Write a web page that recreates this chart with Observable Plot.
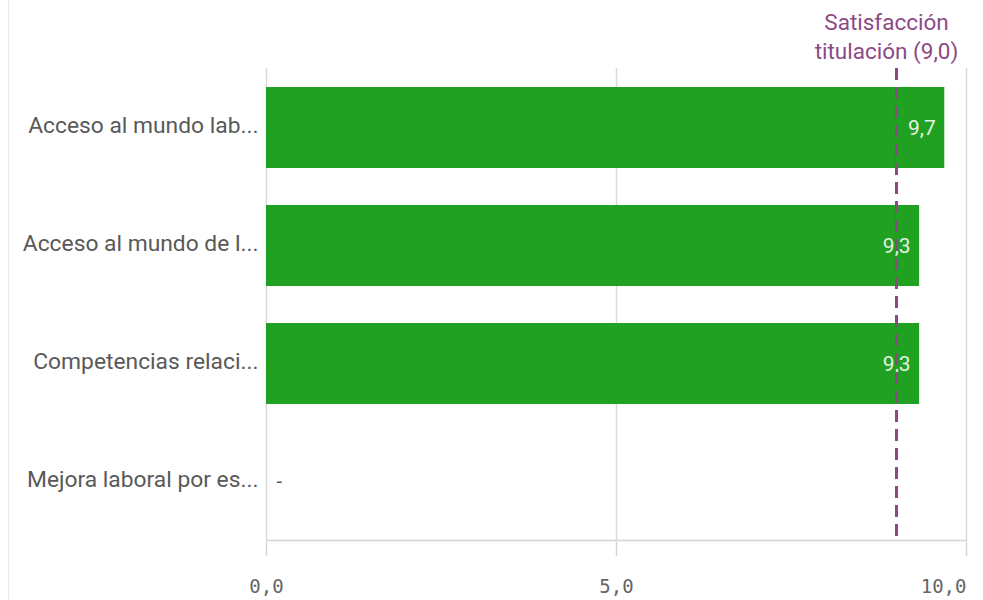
<!DOCTYPE html>
<html>
<head>
<meta charset="utf-8">
<script src="https://cdn.jsdelivr.net/npm/d3@7"></script>
<script src="https://cdn.jsdelivr.net/npm/@observablehq/plot@0.6"></script>
<style>
  html, body { margin: 0; padding: 0; background: #fff; }
  #wrap { position: relative; width: 983px; height: 600px; overflow: hidden; }
  #edge { position: absolute; left: 8px; top: 0; bottom: 0; border-left: 1px solid #e8e8e8; }
  svg { display: block; }
</style>
</head>
<body>
<div id="wrap"><div id="edge"></div><div id="chart"></div></div>
<script>
const categories = [
  "Acceso al mundo lab...",
  "Acceso al mundo de l...",
  "Competencias relaci...",
  "Mejora laboral por es..."
];
const values = [9.69, 9.33, 9.33, null];
const targetValue = 9.0;
const targetLabel = "Satisfacción\ntitulación (9,0)";
const xTicks = [0, 5, 10];

const data = categories.map((c, i) => ({cat: c, value: values[i]}));
const present = data.filter(d => d.value != null);
const missing = data.filter(d => d.value == null);
const fmt = v => d3.format(".1f")(v).replace(".", ",");
const sans = "Roboto, 'Noto Sans', sans-serif";
const mono = "'DejaVu Sans Mono', monospace";

const chart = Plot.plot({
  width: 983,
  height: 600,
  marginLeft: 266,
  marginRight: 17,
  marginTop: 68,
  marginBottom: 60,
  style: {fontFamily: sans, background: "#fff"},
  x: {domain: [0, 10], axis: null},
  y: {domain: categories, paddingInner: 0.314, paddingOuter: 0.157, axis: null},
  marks: [
    Plot.ruleX(xTicks, {stroke: "#d9d9d9", strokeWidth: 1.5}),
    Plot.frame({anchor: "bottom", stroke: "#d4d4d4", strokeWidth: 1.5}),
    Plot.axisX({ticks: xTicks, tickSize: 14, tickFormat: () => "", stroke: "#d4d4d4", strokeWidth: 1.5, dy: 2, label: null}),
    Plot.text(xTicks.filter(t => t < 10), {x: d => d, frameAnchor: "bottom", dy: 52, text: fmt, textAnchor: "middle", fontSize: 19, fill: "#666", fontFamily: mono}),
    Plot.text(xTicks.filter(t => t >= 10), {x: d => d, frameAnchor: "bottom", dy: 52, text: fmt, textAnchor: "end", fontSize: 19, fill: "#666", fontFamily: mono}),
    Plot.axisY({tickSize: 0, tickPadding: 8, fontSize: 22.8, fill: "#595959", label: null, dy: -2}),
    Plot.barX(present, {x: "value", y: "cat", fill: "#21a121"}),
    Plot.text(present, {x: "value", y: "cat", text: d => fmt(d.value), textAnchor: "end", dx: -9, fill: "#e6f2e1", fontSize: 21}),
    Plot.text(missing, {x: d => 0, y: "cat", text: () => "-", textAnchor: "start", dx: 10, fill: "#595959", fontSize: 20}),
    Plot.ruleX([targetValue], {stroke: "#8c4a85", strokeWidth: 3, strokeDasharray: "12,7"}),
    Plot.text([targetValue], {x: d => d, frameAnchor: "top", dy: -10, dx: -10, lineAnchor: "bottom", text: () => targetLabel, textAnchor: "middle", fontSize: 22.5, lineHeight: 1.28, fill: "#8c4a85"})
  ]
});
document.getElementById("chart").appendChild(chart);
</script>
</body>
</html>
